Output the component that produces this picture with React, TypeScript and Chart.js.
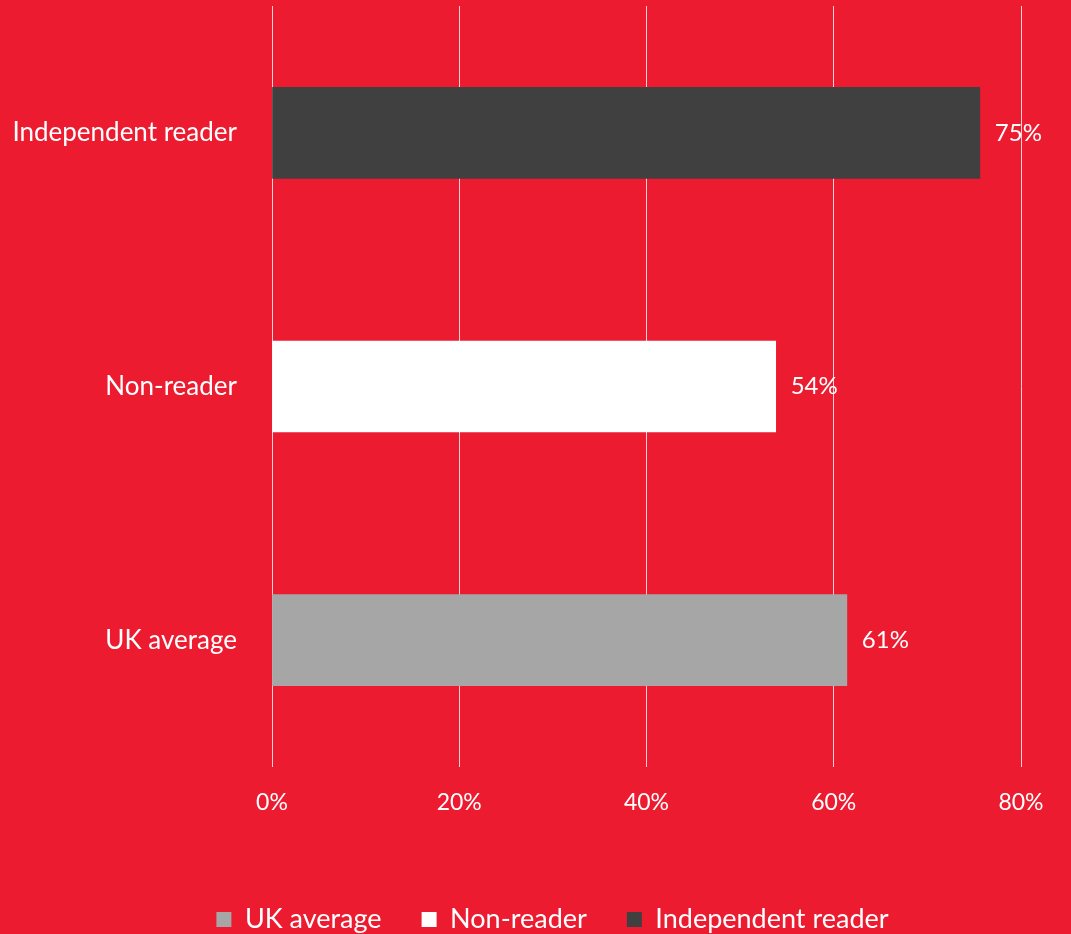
import React, { useEffect, useRef } from "react";
import { Chart, registerables } from "chart.js";

Chart.register(...registerables);

const categories = ["Independent reader", "Non-reader", "UK average"];
const values = [75.6, 53.8, 61.4];
const valueLabels = ["75%", "54%", "61%"];
const barColors = ["#404040", "#FFFFFF", "#A6A6A6"];
const legendNames = ["UK average", "Non-reader", "Independent reader"];
const legendColors = ["#A6A6A6", "#FFFFFF", "#404040"];
const xTicks = [0, 20, 40, 60, 80];

const BG = "#EC1B30";
const FONT = "Lato";

const valueLabelPlugin = {
  id: "valueLabels",
  afterDatasetsDraw(chart: any) {
    const ctx = chart.ctx;
    const meta = chart.getDatasetMeta(0);
    ctx.save();
    ctx.fillStyle = "#FFFFFF";
    ctx.font = `24px ${FONT}`;
    ctx.textAlign = "left";
    ctx.textBaseline = "middle";
    meta.data.forEach((bar: any, i: number) => {
      ctx.fillText(valueLabels[i], bar.x + 15, bar.y);
    });
    ctx.restore();
  },
};

const legendShiftPlugin = {
  id: "legendShift",
  afterLayout(chart: any) {
    const lg = chart.legend;
    if (lg) {
      lg.left += 42;
      lg.right += 42;
    }
  },
};

export default function App() {
  const ref = useRef<HTMLCanvasElement>(null);
  useEffect(() => {
    const chart = new Chart(ref.current!, {
      type: "bar",
      data: {
        labels: categories,
        datasets: [
          {
            data: values,
            backgroundColor: barColors,
            barThickness: 91,
          },
        ],
      },
      plugins: [valueLabelPlugin, legendShiftPlugin],
      options: {
        indexAxis: "y",
        animation: false,
        responsive: false,
        layout: { padding: { top: 6, right: 50, left: 0, bottom: 0 } },
        scales: {
          x: {
            min: 0,
            max: 80,
            afterBuildTicks: (s: any) => {
              s.ticks = xTicks.map((v) => ({ value: v }));
            },
            ticks: {
              color: "#FFFFFF",
              font: { family: FONT, size: 23 },
              padding: 22,
              callback: (v: any) => v + "%",
            },
            grid: { color: "rgba(255,255,255,0.8)", lineWidth: 1, drawTicks: false },
            border: { display: false },
            afterFit: (s: any) => {
              s.height = 99;
              s.paddingTop = 0;
              s.paddingBottom = 0;
            },
          },
          y: {
            ticks: {
              color: "#FFFFFF",
              font: { family: FONT, size: 26 },
              padding: 27,
            },
            grid: { display: false },
            border: { display: false },
            afterFit: (s: any) => {
              s.width = 272;
              s.paddingTop = 0;
              s.paddingBottom = 0;
            },
          },
        },
        plugins: {
          tooltip: { enabled: false },
          legend: {
            position: "bottom",
            labels: {
              color: "#FFFFFF",
              font: { family: FONT, size: 27 },
              boxWidth: 15,
              boxHeight: 15,
              padding: 40,
              generateLabels: () =>
                legendNames.map((n, i) => ({
                  text: n,
                  fillStyle: legendColors[i],
                  strokeStyle: legendColors[i],
                  lineWidth: 0,
                  fontColor: "#FFFFFF",
                  hidden: false,
                  index: i,
                })),
            },
          },
        },
      },
    });
    return () => chart.destroy();
  }, []);
  return (
    <div
      style={{
        position: "absolute",
        left: 0,
        top: 0,
        width: 1071,
        height: 934,
        background: BG,
        overflow: "hidden",
      }}
    >
      <canvas ref={ref} width={1071} height={943} style={{ display: "block" }} />
    </div>
  );
}
